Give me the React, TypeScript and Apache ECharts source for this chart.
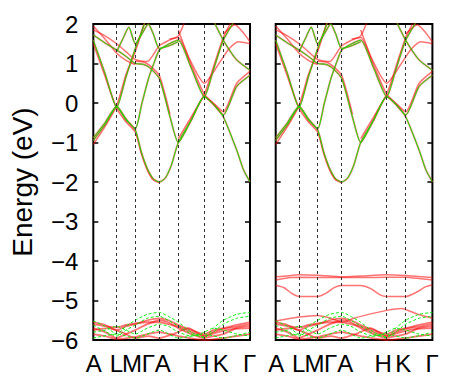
import React, { useEffect, useRef } from "react";
import * as echarts from "echarts";

// k-path (distance units along the path) and labels
const kLabels = ["A", "L", "M", "Γ", "A", "H", "K", "Γ"];
const kLabelPos = [0.5, 23, 38.8, 55, 69.5, 107.5, 127.5, 156.3];
const kMax = 156.7;
const leftDashed = [23.4, 42, 66, 85, 111, 130];
const rightDashed = [23.4, 42, 66, 111, 130];
const eMin = -6;
const eMax = 2;
const yLabel = "Energy (eV)";

// upper bands drawn in red and green (both panels)
const bandsBoth: number[][][] = [
  [[0, -0.95], [11.7, -0.55], [23.4, -0.11], [32.7, -0.43], [42, -0.68], [48, -1.24], [54, -1.66], [60, -1.92], [66, -2.0], [72, -1.9], [78, -1.58], [85, -1.0], [98, -0.43], [111, 0.16], [120, -0.03], [130, -0.35], [143.4, -1.19], [150, -1.68], [156.7, -2.0]],
  [[0, 1.59], [11.7, 0.75], [23.4, -0.11], [32.7, 0.66], [42, 1.38], [48, 1.78], [53, 2.15]],
  [[0, -0.88], [11.7, -0.5], [23.4, -0.08], [32.7, -0.4], [42, -0.65], [48.5, -0.02], [55, 0.6], [60.5, 1.0], [66, 1.34], [76, 1.5], [85, 1.59], [98, 0.88], [111, 0.16], [120, 0.83], [130, 1.59], [141.7, 2.1]],
  [[0, 1.72], [11.7, 1.52], [23.4, 1.34], [32.7, 1.18], [42, 1.0], [50, 0.98], [56, 0.9], [66, 0.62], [76.7, -0.35], [85, -1.0], [98, -0.43], [111, 0.16], [120, -0.03], [130, -0.3], [143.4, 0.42], [156.7, 0.7]],
  [[118, 2.2], [130, 1.59], [143.4, 1.09], [156.7, 0.83]],
  [[23.4, 1.3], [30, 1.65], [35.5, 1.92], [42, 1.5], [48, 1.72], [55, 2.0], [60, 1.75], [66, 1.38], [76, 1.45], [85, 1.55]],
];

// extra red-only upper lines
const bandsRedUpper: number[][][] = [
  [[85, 1.85], [96.7, 1.09], [111, 0.5], [126.7, 1.04], [135, 1.35], [145, 1.55], [156.7, 1.5]],
  [[0, 1.85], [11.7, 1.7], [23.4, 1.5], [32.7, 1.3], [42, 1.1], [54, 1.05], [66, 1.45], [76.7, 1.6], [85, 1.7], [92, 2.1]],
  [[130, 1.75], [141.7, 1.98], [150, 1.78], [156.7, 1.55]],
  [[0, -1.05], [11.7, -0.6], [23.4, -0.06], [32.7, 0.72], [42, 1.3], [47, 1.7], [52, 2.1]],
  [[0, 1.5], [11.7, 0.68], [23.4, -0.14], [32.7, -0.48], [42, -0.74], [48, -1.28], [54, -1.7], [60, -1.95], [66, -2.02]],
  [[85, -0.9], [98, -0.35], [111, 0.22], [120, 0.9], [130, 1.66], [140, 2.15]],
  [[76, 1.62], [85, 1.66], [98, 0.95], [111, 0.22], [120, 0.0], [130, -0.22], [143.4, 0.5], [156.7, 0.8]],
  [[42, 1.06], [50, 1.04], [56, 0.96], [66, 0.7], [76.7, -0.28]],
  [[0, 1.95], [11.7, 1.62], [23.4, 1.26], [32.7, 1.08], [42, 0.97]],
];

// bottom bands (-6 .. -5.2), both panels
const bottomRed: number[][][] = [
  [[0, -5.55], [11.7, -5.62], [23.4, -5.75], [32.7, -5.65], [42, -5.6], [54, -5.5], [66, -5.45], [75, -5.5], [85, -5.62], [98, -5.75], [111, -5.85], [120, -5.75], [130, -5.7], [143.4, -5.62], [156.7, -5.55]],
  [[0, -5.6], [11.7, -5.65], [23.4, -5.68], [32.7, -5.62], [42, -5.58], [54, -5.55], [66, -5.55], [75, -5.6], [85, -5.66], [98, -5.8], [111, -5.9], [120, -5.8], [130, -5.72], [143.4, -5.66], [156.7, -5.6]],
  [[0, -5.7], [11.7, -5.8], [23.4, -5.95], [32.7, -5.85], [42, -5.75], [54, -5.6], [66, -5.5], [75, -5.55], [85, -5.7], [98, -5.85], [111, -5.95], [120, -5.9], [130, -5.85], [143.4, -5.7], [156.7, -5.65]],
  [[0, -5.85], [11.7, -5.9], [23.4, -5.98], [42, -5.92], [54, -5.85], [66, -5.8], [85, -5.9], [111, -6.0], [130, -5.95], [156.7, -5.85]],
  [[0, -5.75], [15, -5.7], [30, -5.82], [42, -5.95], [55, -5.9], [66, -5.95], [80, -5.85], [95, -5.7], [111, -5.9], [125, -5.8], [140, -5.72], [156.7, -5.7]],
];
const bottomGreen: number[][][] = [
  [[0, -5.52], [11.7, -5.65], [23.4, -5.85], [32.7, -5.65], [42, -5.5], [54, -5.35], [66, -5.3], [75, -5.4], [85, -5.55], [98, -5.8], [111, -5.95], [120, -5.7], [130, -5.5], [143.4, -5.35], [156.7, -5.3]],
  [[0, -5.62], [11.7, -5.78], [23.4, -5.9], [32.7, -5.75], [42, -5.62], [54, -5.45], [66, -5.4], [75, -5.5], [85, -5.65], [98, -5.85], [111, -5.92], [120, -5.8], [130, -5.6], [143.4, -5.45], [156.7, -5.4]],
  [[0, -5.8], [11.7, -5.75], [23.4, -5.65], [32.7, -5.75], [42, -5.85], [54, -5.7], [66, -5.6], [75, -5.65], [85, -5.8], [98, -5.9], [111, -5.8], [120, -5.7], [130, -5.75], [143.4, -5.85], [156.7, -5.9]],
  [[0, -5.95], [23.4, -5.85], [42, -5.95], [66, -5.75], [85, -5.95], [111, -5.85], [130, -5.95], [156.7, -5.8]],
];

// right panel only (red)
const rightRed: number[][][] = [
  [[0, -4.4], [10, -4.38], [23.4, -4.35], [42, -4.36], [66, -4.4], [85, -4.38], [111, -4.35], [130, -4.37], [156.7, -4.42]],
  [[0, -4.48], [15, -4.42], [23.4, -4.41], [66, -4.42], [85, -4.42], [111, -4.41], [130, -4.41], [145, -4.45], [156.7, -4.48]],
  [[0, -4.62], [8, -4.67], [16, -4.82], [23.4, -4.9], [42, -4.9], [50, -4.82], [58, -4.68], [66, -4.62], [85, -4.62], [95, -4.7], [104, -4.85], [111, -4.9], [130, -4.9], [140, -4.8], [150, -4.65], [156.7, -4.6]],
  [[0, -5.52], [23.4, -5.42], [42, -5.38], [55, -5.45], [66, -5.55], [78, -5.45], [90, -5.37], [111, -5.25], [126, -5.2], [142, -5.35], [156.7, -5.45]],
];

const FONT = '"Liberation Sans", Arial, Helvetica, sans-serif';
const RED = "rgba(255,0,0,0.55)";
const GREEN = "rgba(0,240,0,0.95)";

function band(data: number[][], panel: number, color: string, width: number, dash?: number[]) {
  return {
    type: "line",
    xAxisIndex: panel,
    yAxisIndex: panel * 2,
    data,
    symbol: "none",
    smooth: 0.2,
    silent: true,
    clip: true,
    lineStyle: { color, width, type: dash ? dash : "solid" },
  };
}

function dashedSeries(panel: number, positions: number[]) {
  return {
    type: "line",
    xAxisIndex: panel,
    yAxisIndex: panel * 2,
    data: [],
    symbol: "none",
    silent: true,
    markLine: {
      silent: true,
      symbol: ["none", "none"],
      label: { show: false },
      lineStyle: { type: [3, 3], color: "#333", width: 1 },
      data: positions.map((x) => ({ xAxis: x })),
    },
  };
}

export default function App() {
  const ref = useRef<HTMLDivElement>(null);
  useEffect(() => {
    if (!ref.current) return;
    const chart = echarts.init(ref.current, undefined, { renderer: "svg" });
    const grids = [0, 1].map((p) => ({
      left: p === 0 ? 93.3 : 275.7,
      top: 24,
      width: 156.7,
      height: 316,
      show: true,
      borderColor: "#000",
      borderWidth: 2,
      backgroundColor: "transparent",
    }));
    const xAxes = [0, 1].map((p) => ({
      gridIndex: p,
      type: "value",
      min: 0,
      max: kMax,
      axisLine: { show: false },
      splitLine: { show: false },
      axisTick: { show: false, customValues: kLabelPos },
      axisLabel: {
        customValues: kLabelPos,
        formatter: (v: number) => {
          const i = kLabelPos.indexOf(v);
          return i >= 0 ? kLabels[i] : "";
        },
        fontSize: 24,
        color: "#000",
        fontFamily: FONT,
        margin: 11,
      },
    }));
    const yAxes: any[] = [];
    [0, 1].forEach((p) => {
      ["left", "right"].forEach((pos) => {
        const withLabels = p === 0 && pos === "left";
        yAxes.push({
          gridIndex: p,
          type: "value",
          position: pos,
          min: eMin,
          max: eMax,
          interval: 1,
          axisLine: { show: false },
          splitLine: { show: false },
          axisTick: { show: true, inside: true, length: 5, lineStyle: { color: "#000", width: 1.5 } },
          axisLabel: {
            show: withLabels,
            fontSize: 24,
            color: "#000",
            fontFamily: FONT,
            margin: 15,
            formatter: (v: number) => (v < 0 ? "\u2212" + Math.abs(v) : String(v)),
          },
          name: withLabels ? yLabel : "",
          nameLocation: "middle",
          nameRotate: 90,
          nameGap: 57,
          nameTextStyle: { fontSize: 28, color: "#000", fontFamily: FONT },
        });
      });
    });
    const series: any[] = [];
    [0, 1].forEach((p) => {
      series.push(dashedSeries(p, p === 0 ? leftDashed : rightDashed));
      bandsRedUpper.forEach((b) => series.push(band(b, p, RED, 1.5)));
      bandsBoth.forEach((b) => series.push(band(b, p, RED, 1.8)));
      bottomRed.forEach((b) => series.push(band(b, p, RED, 1.8)));
      if (p === 1) rightRed.forEach((b) => series.push(band(b, p, RED, 1.5)));
      bottomGreen.forEach((b) => series.push(band(b, p, GREEN, 1, [3, 2])));
      bandsBoth.forEach((b) => series.push(band(b, p, GREEN, 1)));
    });
    chart.setOption({
      animation: false,
      backgroundColor: "#fff",
      textStyle: { fontFamily: FONT },
      grid: grids,
      xAxis: xAxes,
      yAxis: yAxes,
      series,
    });
    return () => chart.dispose();
  }, []);
  return (
    <div
      ref={ref}
      style={{ position: "fixed", left: 0, top: 0, width: 452, height: 382 }}
    />
  );
}
